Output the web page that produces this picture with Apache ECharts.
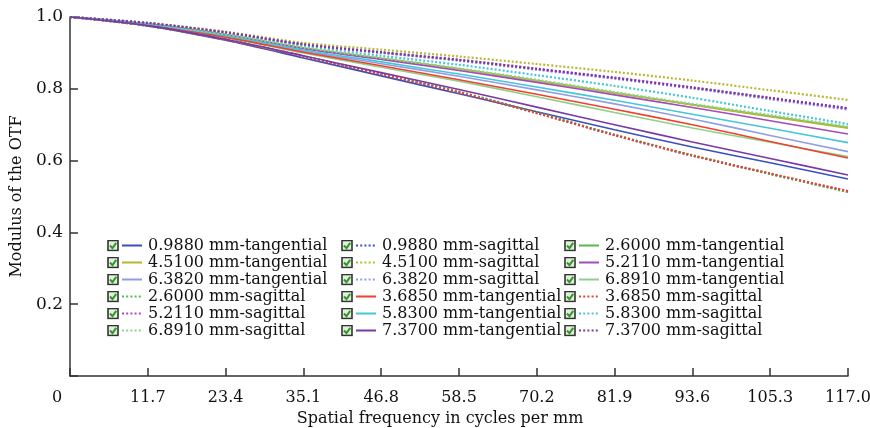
<!DOCTYPE html>
<html lang="en">
<head>
  <meta charset="utf-8">
  <style>
    html, body { margin: 0; height: 100%; background: #fff; }
    #chart { width: 870px; height: 428px; }
  </style>
</head>
<body>
  <div id="chart"></div>
  <script src="https://cdn.jsdelivr.net/npm/echarts@6/dist/echarts.min.js"></script>
  <script>
    // spatial frequency samples (cycles/mm)
    const freq = [0, 11.7, 23.4, 35.1, 46.8, 58.5, 70.2, 81.9, 93.6, 105.3, 117];

    // MTF values, one array per field / direction
    const t0988 = [1, 0.975, 0.935, 0.886, 0.836, 0.786, 0.736, 0.686, 0.638, 0.594, 0.549];
    const s0988 = [1, 0.976, 0.937, 0.890, 0.841, 0.791, 0.733, 0.671, 0.614, 0.563, 0.514];
    const t2600 = [1, 0.981, 0.951, 0.914, 0.885, 0.856, 0.823, 0.789, 0.756, 0.724, 0.692];
    const s2600 = [1, 0.976, 0.937, 0.891, 0.842, 0.792, 0.734, 0.672, 0.615, 0.563, 0.512];
    const t3685 = [1, 0.978, 0.944, 0.902, 0.864, 0.825, 0.785, 0.743, 0.700, 0.653, 0.607];
    const s3685 = [1, 0.976, 0.937, 0.890, 0.840, 0.790, 0.732, 0.671, 0.614, 0.564, 0.515];
    const t4510 = [1, 0.981, 0.951, 0.913, 0.884, 0.855, 0.822, 0.788, 0.755, 0.722, 0.690];
    const s4510 = [1, 0.984, 0.959, 0.928, 0.909, 0.890, 0.869, 0.847, 0.823, 0.796, 0.769];
    const t5211 = [1, 0.981, 0.950, 0.912, 0.882, 0.851, 0.818, 0.783, 0.748, 0.711, 0.674];
    const s5211 = [1, 0.983, 0.957, 0.923, 0.901, 0.880, 0.855, 0.830, 0.803, 0.774, 0.745];
    const t5830 = [1, 0.980, 0.948, 0.908, 0.875, 0.841, 0.805, 0.768, 0.729, 0.690, 0.650];
    const s5830 = [1, 0.982, 0.953, 0.918, 0.892, 0.867, 0.838, 0.808, 0.775, 0.738, 0.702];
    const t6382 = [1, 0.979, 0.946, 0.905, 0.870, 0.835, 0.797, 0.758, 0.716, 0.670, 0.625];
    const s6382 = [1, 0.983, 0.956, 0.922, 0.900, 0.878, 0.853, 0.828, 0.801, 0.771, 0.742];
    const t6891 = [1, 0.978, 0.943, 0.900, 0.860, 0.821, 0.778, 0.734, 0.691, 0.651, 0.611];
    const s6891 = [1, 0.981, 0.952, 0.915, 0.886, 0.857, 0.825, 0.791, 0.758, 0.727, 0.695];
    const t7370 = [1, 0.976, 0.938, 0.892, 0.845, 0.798, 0.749, 0.700, 0.652, 0.606, 0.560];
    const s7370 = [1, 0.983, 0.957, 0.924, 0.902, 0.881, 0.856, 0.831, 0.804, 0.775, 0.746];

    // x tick labels
    const xTicks = ['0', '11.7', '23.4', '35.1', '46.8', '58.5', '70.2', '81.9', '93.6', '105.3', '117.0'];

    const lines = [
      { name: '0.9880 mm-tangential', data: t0988, color: '#3a4fc0', dot: false },
      { name: '0.9880 mm-sagittal',   data: s0988, color: '#3a4fc0', dot: true },
      { name: '2.6000 mm-tangential', data: t2600, color: '#5cb84a', dot: false },
      { name: '4.5100 mm-tangential', data: t4510, color: '#b8b832', dot: false },
      { name: '4.5100 mm-sagittal',   data: s4510, color: '#b8b832', dot: true },
      { name: '5.2110 mm-tangential', data: t5211, color: '#a24cbe', dot: false },
      { name: '6.3820 mm-tangential', data: t6382, color: '#8f9fe2', dot: false },
      { name: '6.3820 mm-sagittal',   data: s6382, color: '#8f9fe2', dot: true },
      { name: '6.8910 mm-tangential', data: t6891, color: '#8fd08a', dot: false },
      { name: '2.6000 mm-sagittal',   data: s2600, color: '#4cc04a', dot: true },
      { name: '3.6850 mm-tangential', data: t3685, color: '#f0402e', dot: false },
      { name: '3.6850 mm-sagittal',   data: s3685, color: '#f0402e', dot: true },
      { name: '5.2110 mm-sagittal',   data: s5211, color: '#b046c0', dot: true },
      { name: '5.8300 mm-tangential', data: t5830, color: '#46c6d8', dot: false },
      { name: '5.8300 mm-sagittal',   data: s5830, color: '#46c6d8', dot: true },
      { name: '6.8910 mm-sagittal',   data: s6891, color: '#8fd08a', dot: true },
      { name: '7.3700 mm-tangential', data: t7370, color: '#7a3aa6', dot: false },
      { name: '7.3700 mm-sagittal',   data: s7370, color: '#7a3aa6', dot: true }
    ];

    const legendCols = [
      ['0.9880 mm-tangential', '4.5100 mm-tangential', '6.3820 mm-tangential', '2.6000 mm-sagittal', '5.2110 mm-sagittal', '6.8910 mm-sagittal'],
      ['0.9880 mm-sagittal', '4.5100 mm-sagittal', '6.3820 mm-sagittal', '3.6850 mm-tangential', '5.8300 mm-tangential', '7.3700 mm-tangential'],
      ['2.6000 mm-tangential', '5.2110 mm-tangential', '6.8910 mm-tangential', '3.6850 mm-sagittal', '5.8300 mm-sagittal', '7.3700 mm-sagittal']
    ];

    // checkbox + line sample as the legend icon
    function legendIcon(color, dot) {
      var svg = '<svg xmlns="http://www.w3.org/2000/svg" width="36" height="12">' +
        '<rect x="1" y="1" width="10" height="10" fill="#e3f0dc" stroke="#333" stroke-width="1.6"/>' +
        '<polyline points="3,6 5.5,8.6 9.2,3.4" fill="none" stroke="#2f9a2a" stroke-width="2"/>' +
        '<line x1="15" y1="6" x2="35" y2="6" stroke="' + color + '" stroke-width="2"' +
        (dot ? ' stroke-dasharray="2,2.2"' : '') + '/></svg>';
      return 'image://data:image/svg+xml;charset=utf-8,' + encodeURIComponent(svg);
    }

    const font = '"DejaVu Serif", serif';
    const ink = '#111';
    const legendLeft = [102, 336, 559];

    const chart = echarts.init(document.getElementById('chart'), null, { renderer: 'canvas' });

    const option = {
      animation: false,
      grid: { left: 70, right: 22, top: 17, bottom: 52, outerBoundsMode: 'none' },
      legend: legendCols.map(function (col, i) {
        return {
          orient: 'vertical',
          left: legendLeft[i],
          top: 232,
          itemWidth: 36,
          itemHeight: 12,
          itemGap: 0,
          selectedMode: false,
          textStyle: { fontFamily: font, fontSize: 16, color: ink, lineHeight: 17 },
          data: col.map(function (n) {
            var l = lines.find(function (s) { return s.name === n; });
            return { name: n, icon: legendIcon(l.color, l.dot) };
          })
        };
      }),
      xAxis: {
        type: 'value',
        min: 0,
        max: 117,
        interval: 11.7,
        name: 'Spatial frequency in cycles per mm',
        nameLocation: 'middle',
        nameGap: 33,
        nameTextStyle: { fontFamily: font, fontSize: 16, color: ink, padding: [0, 38, 0, 0] },
        axisLine: { lineStyle: { color: '#333', width: 1.5 } },
        axisTick: { inside: true, length: 8, lineStyle: { color: '#333', width: 1.5 } },
        splitLine: { show: false },
        axisLabel: {
          fontFamily: font,
          fontSize: 16,
          color: ink,
          margin: 14,
          formatter: function (v) {
            var i = Math.round(v / 11.7);
            return i === 0 ? '{z|0}' : xTicks[i];
          },
          rich: { z: { fontFamily: font, fontSize: 16, color: ink, padding: [0, 26, 0, 0] } }
        }
      },
      yAxis: {
        type: 'value',
        min: 0,
        max: 1,
        interval: 0.2,
        name: 'Modulus of the OTF',
        nameLocation: 'middle',
        nameGap: 40,
        nameTextStyle: { fontFamily: font, fontSize: 16, color: ink },
        axisLine: { show: true, lineStyle: { color: '#333', width: 1.5 } },
        axisTick: { show: true, inside: true, length: 8, lineStyle: { color: '#333', width: 1.5 } },
        splitLine: { show: false },
        axisLabel: {
          fontFamily: font,
          fontSize: 17,
          color: ink,
          margin: 7,
          formatter: function (v) { return v === 0 ? '' : v.toFixed(1); }
        }
      },
      series: lines.map(function (l) {
        return {
          name: l.name,
          type: 'line',
          smooth: 0.3,
          showSymbol: false,
          symbol: 'none',
          color: l.color,
          lineStyle: { color: l.color, width: l.dot ? 2.2 : 1.6, type: l.dot ? [2, 2] : 'solid' },
          data: freq.map(function (f, i) { return [f, l.data[i]]; })
        };
      })
    };

    chart.setOption(option);
  </script>
</body>
</html>
